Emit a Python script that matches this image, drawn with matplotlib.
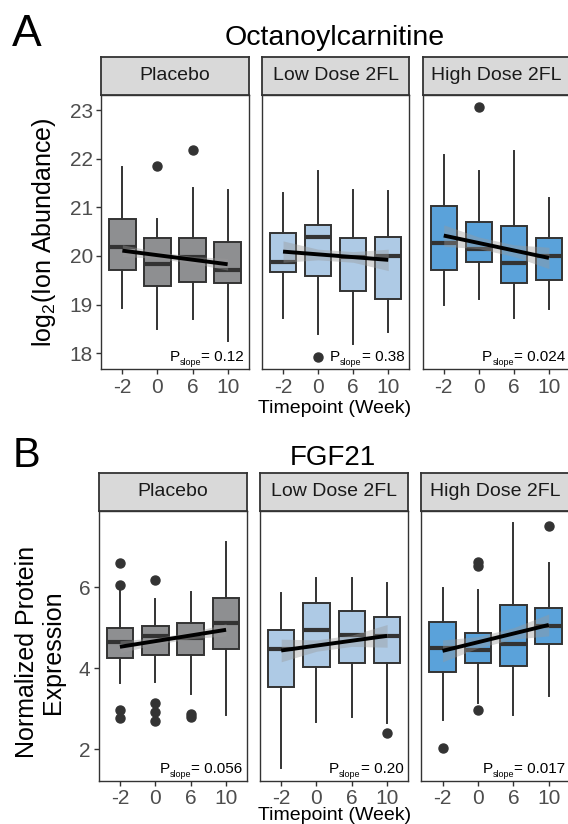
import matplotlib
matplotlib.use("Agg")
import matplotlib.pyplot as plt

plt.rcParams['font.family'] = ['Liberation Sans', 'DejaVu Sans']
plt.rcParams['mathtext.default'] = 'regular'

# ---------------- data ----------------
groups = ["Placebo", "Low Dose 2FL", "High Dose 2FL"]
timepoints = ["-2", "0", "6", "10"]
group_colors = ["#8E8F91", "#AECAE5", "#5AA2DA"]

# Panel A: Octanoylcarnitine  (whislo, q1, median, q3, whishi) per timepoint
octa_placebo = [(18.94, 19.71, 20.19, 20.77, 21.83), (18.50, 19.38, 19.83, 20.36, 20.77),
                (18.70, 19.46, 19.98, 20.36, 21.39), (18.26, 19.45, 19.71, 20.28, 21.35)]
octa_low = [(18.73, 19.68, 19.88, 20.48, 21.29), (18.39, 19.59, 20.39, 20.63, 21.75),
            (18.19, 19.29, 19.98, 20.37, 21.35), (18.43, 19.11, 20.00, 20.39, 21.33)]
octa_high = [(18.99, 19.71, 20.26, 21.03, 22.07), (19.11, 19.88, 20.14, 20.70, 21.75),
             (18.73, 19.44, 19.86, 20.62, 22.16), (18.92, 19.50, 20.00, 20.37, 21.20)]
octa_fliers_placebo = [[], [21.85], [22.18], []]
octa_fliers_low = [[], [17.93], [], []]
octa_fliers_high = [[], [23.06], [], []]
octa_fit_placebo = (20.11, 19.83)
octa_fit_low = (20.09, 19.92)
octa_fit_high = (20.42, 19.96)
octa_band_lo_placebo = [19.99, 19.95, 19.85, 19.71]
octa_band_hi_placebo = [20.23, 20.09, 19.99, 19.95]
octa_band_lo_low = [19.87, 19.92, 19.87, 19.70]
octa_band_hi_low = [20.31, 20.14, 20.09, 20.14]
octa_band_lo_high = [20.20, 20.15, 19.99, 19.74]
octa_band_hi_high = [20.64, 20.39, 20.23, 20.18]
octa_p = ["0.12", "0.38", "0.024"]

# Panel B: FGF21
fgf_placebo = [(3.64, 4.26, 4.66, 4.99, 5.93), (3.67, 4.33, 4.80, 5.04, 5.70),
               (3.37, 4.33, 4.75, 5.13, 5.89), (2.85, 4.47, 5.11, 5.73, 7.11)]
fgf_low = [(1.54, 3.53, 4.47, 4.95, 5.86), (2.68, 4.04, 4.95, 5.60, 6.22),
           (2.80, 4.12, 4.82, 5.42, 6.22), (2.64, 4.14, 4.80, 5.27, 6.11)]
fgf_high = [(2.72, 3.92, 4.51, 5.15, 5.98), (3.15, 4.14, 4.45, 4.86, 5.93),
            (2.85, 4.06, 4.60, 5.56, 7.58), (3.32, 4.60, 5.04, 5.48, 6.59)]
fgf_fliers_placebo = [[6.61, 6.06, 2.97, 2.77], [6.18, 3.15, 2.93, 2.71], [2.87, 2.79], []]
fgf_fliers_low = [[], [], [], [2.41]]
fgf_fliers_high = [[2.02], [6.53, 6.62, 2.97], [], [7.51]]
fgf_fit_placebo = (4.53, 4.95)
fgf_fit_low = (4.44, 4.80)
fgf_fit_high = (4.43, 5.07)
fgf_band_lo_placebo = [4.38, 4.59, 4.73, 4.80]
fgf_band_hi_placebo = [4.68, 4.75, 4.89, 5.10]
fgf_band_lo_low = [4.16, 4.42, 4.54, 4.52]
fgf_band_hi_low = [4.72, 4.70, 4.82, 5.08]
fgf_band_lo_high = [4.16, 4.50, 4.72, 4.80]
fgf_band_hi_high = [4.70, 4.78, 5.00, 5.34]
fgf_p = ["0.056", "0.20", "0.017"]

octa_yticks = [18, 19, 20, 21, 22, 23]
fgf_yticks = [2, 4, 6]

# ---------------- figure ----------------
W, H = 568, 824
fig = plt.figure(figsize=(W / 100, H / 100), dpi=100)
renderer = fig.canvas.get_renderer()
DARK = "#333333"


def ax_px(x0, y0, x1, y1):
    return fig.add_axes([x0 / W, 1 - y1 / H, (x1 - x0) / W, (y1 - y0) / H])


def p_annot(ax, pstr):
    dx, dy = -5, 8
    t1 = ax.annotate("= " + pstr, xy=(1, 0), xycoords='axes fraction', xytext=(dx, dy),
                     textcoords='offset pixels', ha='right', va='baseline', fontsize=11, color='black')
    w1 = t1.get_window_extent(renderer).width
    t2 = ax.annotate("slope", xy=(1, 0), xycoords='axes fraction', xytext=(dx - w1, dy - 4),
                     textcoords='offset pixels', ha='right', va='baseline', fontsize=6.5, color='black')
    w2 = t2.get_window_extent(renderer).width
    ax.annotate("P", xy=(1, 0), xycoords='axes fraction', xytext=(dx - w1 - w2, dy),
                textcoords='offset pixels', ha='right', va='baseline', fontsize=11, color='black')


def draw_panel(xs, y_top, y_bot, strip_top, label, stats5, fliers, fit, blo, bhi, color, pstr,
               ylim, yticks, first):
    ax = ax_px(xs[0], y_top, xs[1], y_bot)
    stats = []
    for s, f, t in zip(stats5, fliers, timepoints):
        stats.append(dict(whislo=s[0], q1=s[1], med=s[2], q3=s[3], whishi=s[4], fliers=f, label=t))
    pos = [1, 2, 3, 4]
    ax.bxp(stats, positions=pos, widths=0.75, patch_artist=True, showcaps=False,
           boxprops=dict(facecolor=color, edgecolor=DARK, linewidth=1.4),
           whiskerprops=dict(color=DARK, linewidth=1.4),
           medianprops=dict(color=DARK, linewidth=3.0, solid_capstyle='butt'),
           flierprops=dict(marker='o', markerfacecolor=DARK, markeredgecolor=DARK, markersize=6.5))
    ax.fill_between(pos, blo, bhi, color='#999999', alpha=0.4, lw=0, zorder=3)
    ax.plot([pos[0], pos[-1]], list(fit), color='black', lw=2.8, zorder=4, solid_capstyle='butt')
    ax.set_xlim(0.4, 4.6)
    ax.set_ylim(*ylim)
    ax.set_xticks(pos)
    ax.set_xticklabels(timepoints)
    ax.set_yticks(yticks)
    ax.tick_params(axis='both', length=3.5, width=1.0, color=DARK, labelsize=15,
                   labelcolor='#4D4D4D', pad=2.5)
    if not first:
        ax.tick_params(axis='y', left=False, labelleft=False)
    for sp in ax.spines.values():
        sp.set_color(DARK)
        sp.set_linewidth(1.0)
    p_annot(ax, pstr)
    # strip
    sax = ax_px(xs[0], strip_top, xs[1], y_top)
    sax.set_facecolor('#D9D9D9')
    sax.set_xticks([])
    sax.set_yticks([])
    for sp in sax.spines.values():
        sp.set_color(DARK)
        sp.set_linewidth(1.3)
    sax.text(0.5, 0.5, label, ha='center', va='center', fontsize=14, color='#1A1A1A',
             transform=sax.transAxes)
    return ax


# Panel A
xA = [(101.3, 248.7), (262.0, 409.3), (422.7, 570.0)]
A_stats = [octa_placebo, octa_low, octa_high]
A_fl = [octa_fliers_placebo, octa_fliers_low, octa_fliers_high]
A_fit = [octa_fit_placebo, octa_fit_low, octa_fit_high]
A_lo = [octa_band_lo_placebo, octa_band_lo_low, octa_band_lo_high]
A_hi = [octa_band_hi_placebo, octa_band_hi_low, octa_band_hi_high]
for i in range(3):
    draw_panel(xA[i], 95.0, 369.3, 57.0, groups[i], A_stats[i], A_fl[i], A_fit[i], A_lo[i], A_hi[i],
               group_colors[i], octa_p[i], (17.67, 23.31), octa_yticks, i == 0)

# Panel B
xB = [(98.7, 247.3), (260.0, 408.3), (421.3, 570.0)]
B_stats = [fgf_placebo, fgf_low, fgf_high]
B_fl = [fgf_fliers_placebo, fgf_fliers_low, fgf_fliers_high]
B_fit = [fgf_fit_placebo, fgf_fit_low, fgf_fit_high]
B_lo = [fgf_band_lo_placebo, fgf_band_lo_low, fgf_band_lo_high]
B_hi = [fgf_band_hi_placebo, fgf_band_hi_low, fgf_band_hi_high]
for i in range(3):
    draw_panel(xB[i], 510.7, 780.7, 473.0, groups[i], B_stats[i], B_fl[i], B_fit[i], B_lo[i], B_hi[i],
               group_colors[i], fgf_p[i], (1.225, 7.89), fgf_yticks, i == 0)

# texts
fig.text(12 / W, 1 - 46 / H, "A", fontsize=32, ha='left', va='baseline')
fig.text(13 / W, 1 - 467 / H, "B", fontsize=30, ha='left', va='baseline')
fig.text(335 / W, 1 - 45 / H, "Octanoylcarnitine", fontsize=20.5, ha='center', va='baseline')
fig.text(333 / W, 1 - 465 / H, "FGF21", fontsize=20, ha='center', va='baseline')
fig.text(335 / W, 1 - 413 / H, "Timepoint (Week)", fontsize=14, ha='center', va='baseline')
fig.text(335 / W, 1 - 820 / H, "Timepoint (Week)", fontsize=14, ha='center', va='baseline')
fig.text(44 / W, 1 - 232 / H, r"log$_2$(Ion Abundance)", fontsize=18, ha='center', va='center',
         rotation=90)
fig.text(40 / W, 1 - 652 / H, "Normalized Protein\nExpression", fontsize=18, ha='center',
         va='center', rotation=90, multialignment='center', linespacing=1.12)

fig.savefig("out.png", dpi=100, facecolor='white')
